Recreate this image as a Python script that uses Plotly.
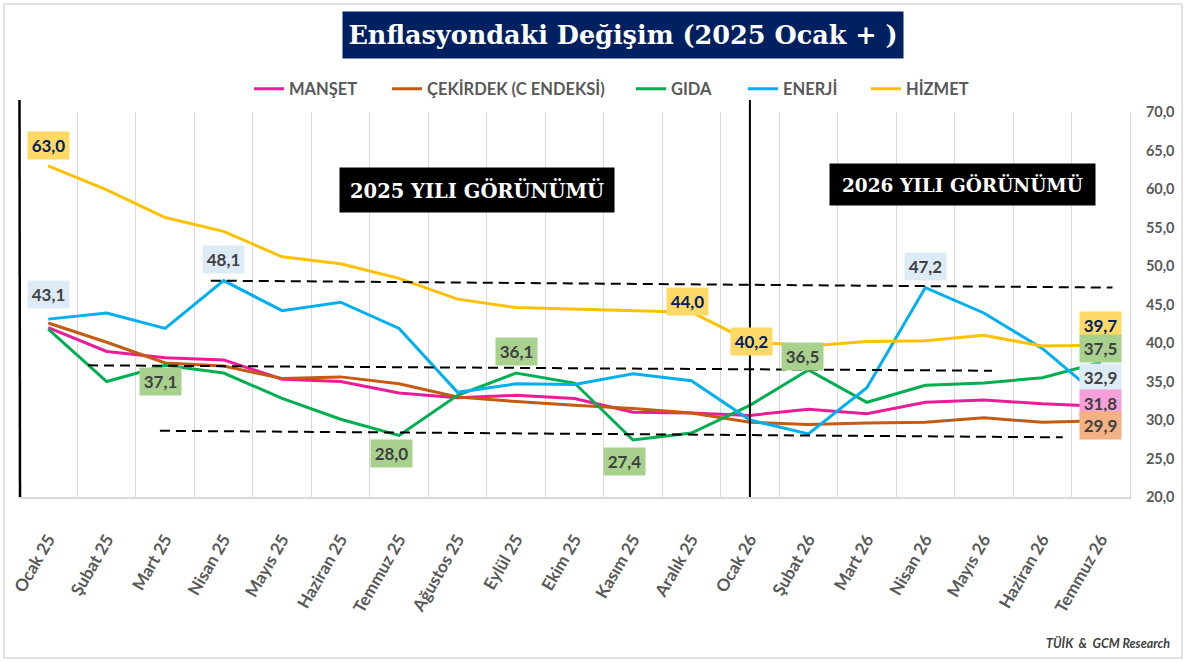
import plotly.graph_objects as go

# ---------------- data ----------------
months = ["Ocak 25", "Şubat 25", "Mart 25", "Nisan 25", "Mayıs 25", "Haziran 25",
          "Temmuz 25", "Ağustos 25", "Eylül 25", "Ekim 25", "Kasım 25", "Aralık 25",
          "Ocak 26", "Şubat 26", "Mart 26", "Nisan 26", "Mayıs 26", "Haziran 26", "Temmuz 26"]

manset   = [42.0, 38.9, 38.1, 37.8, 35.3, 35.0, 33.5, 32.9, 33.2, 32.8, 31.0, 30.9,
            30.6, 31.4, 30.8, 32.3, 32.6, 32.1, 31.8]
cekirdek = [42.6, 40.1, 37.4, 37.0, 35.4, 35.6, 34.7, 33.0, 32.4, 31.9, 31.5, 30.9,
            29.7, 29.4, 29.6, 29.7, 30.3, 29.7, 29.9]
gida     = [41.8, 35.0, 37.1, 36.1, 32.8, 30.1, 28.0, 33.2, 36.1, 34.8, 27.4, 28.3,
            31.9, 36.5, 32.3, 34.5, 34.8, 35.5, 37.5]
enerji   = [43.1, 43.9, 41.9, 48.1, 44.2, 45.3, 41.9, 33.6, 34.7, 34.6, 36.0, 35.1,
            30.0, 28.2, 34.2, 47.2, 43.9, 39.3, 32.9]
hizmet   = [63.0, 59.9, 56.3, 54.5, 51.2, 50.3, 48.4, 45.7, 44.6, 44.4, 44.2, 44.0,
            40.2, 39.6, 40.2, 40.3, 41.0, 39.6, 39.7]

series_names = ["MANŞET", "ÇEKİRDEK (C ENDEKSİ)", "GIDA", "ENERJİ", "HİZMET"]

# dashed reference (trend) lines: start/end positions in category index & value
ref_x0 = [2.78, 0.68, 1.91]
ref_y0 = [48.1, 37.1, 28.6]
ref_x1 = [18.2, 16.14, 17.35]
ref_y1 = [47.2, 36.4, 27.75]

y_ticks = [20, 25, 30, 35, 40, 45, 50, 55, 60, 65, 70]

# ---------------- styling ----------------
W, H = 1187, 663
ML, MR, MT, MB = 19, 57, 112, 166
PW, PH = W - ML - MR, H - MT - MB


def px(x):
    return (x - ML) / PW


def py(y):
    return (H - MB - y) / PH


colors = ["#EC1C99", "#C55A11", "#00B050", "#00B0F0", "#FFC000"]
all_series = [manset, cekirdek, gida, enerji, hizmet]
legend_x = [254, 392, 636, 748, 871]
FONT = "Lato"
GRAY = "#595959"

xs = list(range(len(months)))

fig = go.Figure()
for k, (name, vals, col) in enumerate(zip(series_names, all_series, colors)):
    fig.add_trace(go.Scatter(
        x=xs, y=vals, name=name, mode="lines",
        line=dict(color=col, width=3),
        legend="legend" if k == 0 else f"legend{k+1}",
        hoverinfo="skip"))

for a, b, c, d in zip(ref_x0, ref_y0, ref_x1, ref_y1):
    fig.add_trace(go.Scatter(x=[a, c], y=[b, d], mode="lines", showlegend=False,
                             line=dict(color="black", width=2, dash="10px,6px"),
                             hoverinfo="skip"))

# ---------------- data labels ----------------
YEL_BG, BLU_BG, GRN_BG, PNK_BG, ORG_BG = "#FFD966", "#DDEBF7", "#A9D18E", "#F79FD8", "#F4B183"
NAVY, DARK = "#002060", "#404040"
labels = [
    (hizmet, 0, 0, 20, YEL_BG, NAVY),
    (enerji, 0, 0, 25, BLU_BG, DARK),
    (enerji, 3, 0, 21, BLU_BG, DARK),
    (gida, 2, -5, -16, GRN_BG, DARK),
    (gida, 6, -8, -18, GRN_BG, DARK),
    (gida, 8, 0, 22, GRN_BG, DARK),
    (gida, 10, -8, -21, GRN_BG, DARK),
    (hizmet, 11, -4, 11, YEL_BG, NAVY),
    (hizmet, 12, 2, 0, YEL_BG, NAVY),
    (gida, 13, -6, 13, GRN_BG, DARK),
    (enerji, 15, 0, 21, BLU_BG, DARK),
    (hizmet, 18, 0, 20, YEL_BG, NAVY),
    (gida, 18, 0, 14, GRN_BG, DARK),
    (enerji, 18, 0, 20, BLU_BG, DARK),
    (manset, 18, 0, 3, PNK_BG, DARK),
    (cekirdek, 18, 0, -5, ORG_BG, DARK),
]
annotations = []
for vals, i, dx, dy, bg, fc in labels:
    annotations.append(dict(
        x=i, y=vals[i], xref="x", yref="y", showarrow=False,
        xanchor="center", yanchor="middle",
        text=f"{vals[i]:.1f}".replace(".", ","), xshift=dx, yshift=dy,
        bgcolor=bg, width=35, height=21, borderpad=3,
        font=dict(family=FONT, size=17, color=fc, weight="bold")))

# title
annotations.append(dict(
    x=px(623), y=py(35), xref="paper", yref="paper", showarrow=False,
    xanchor="center", yanchor="middle",
    text="Enflasyondaki Değişim (2025 Ocak + )", bgcolor="#002060",
    width=552, height=38, borderpad=4,
    font=dict(family="DejaVu Serif", size=25.5, color="white", weight="bold")))
# period boxes
annotations.append(dict(
    x=px(477), y=py(190), xref="paper", yref="paper", showarrow=False,
    xanchor="center", yanchor="middle",
    text="2025 YILI GÖRÜNÜMÜ", bgcolor="black", width=268, height=38, borderpad=3,
    font=dict(family="DejaVu Serif", size=19.5, color="white", weight="bold")))
annotations.append(dict(
    x=px(962), y=py(184), xref="paper", yref="paper", showarrow=False,
    xanchor="center", yanchor="middle",
    text="2026 YILI GÖRÜNÜMÜ", bgcolor="black", width=259, height=35, borderpad=3,
    font=dict(family="DejaVu Serif", size=18.5, color="white", weight="bold")))
# source
annotations.append(dict(
    x=px(1172), y=py(643), xref="paper", yref="paper", showarrow=False,
    xanchor="right", yanchor="middle", text="TÜİK  &  GCM Research",
    font=dict(family=FONT, size=12.5, color=DARK, weight="bold", style="italic")))

shapes = [
    # outer frame
    dict(type="rect", xref="paper", yref="paper", x0=px(4), x1=px(1182), y0=py(658), y1=py(4),
         line=dict(color="#D9D9D9", width=1.5), layer="below"),
    # left black line
    dict(type="line", xref="paper", yref="paper", x0=px(19.5), x1=px(20), y0=py(100), y1=0,
         line=dict(color="black", width=2.5)),
    # 2025/2026 divider
    dict(type="line", xref="x", yref="paper", x0=12, x1=12, y0=0, y1=py(100),
         line=dict(color="black", width=2)),
]

legends = {}
for k, lx in enumerate(legend_x):
    key = "legend" if k == 0 else f"legend{k+1}"
    legends[key] = dict(
        x=px(lx) - 5 / PW, y=py(89), xanchor="left", yanchor="middle",
        orientation="h", bgcolor="rgba(0,0,0,0)", itemwidth=30,
        font=dict(family=FONT, size=16.5, color=GRAY, weight="bold"))

fig.update_layout(
    width=W, height=H,
    margin=dict(l=ML, r=MR, t=MT, b=MB, autoexpand=False),
    paper_bgcolor="white", plot_bgcolor="white",
    separators=",.",
    showlegend=True,
    annotations=annotations, shapes=shapes,
    xaxis=dict(range=[-0.5, 18.5], tickmode="array", tickvals=xs, ticktext=months,
               tickangle=-60, showgrid=False, zeroline=False, automargin=False,
               showline=True, linecolor="#D9D9D9", linewidth=1.5, ticks="",
               ticklabelstandoff=24,
               minor=dict(tick0=0.5, dtick=1, showgrid=True, gridcolor="#D9D9D9", gridwidth=1),
               tickfont=dict(family=FONT, size=17, color=GRAY, weight="bold")),
    yaxis=dict(range=[20, 70], side="right", tickmode="array", tickvals=y_ticks,
               tickformat=".1f", showgrid=False, zeroline=False, automargin=False,
               showline=True, linecolor="#D9D9D9", linewidth=1, ticks="",
               ticklabelstandoff=12,
               tickfont=dict(family=FONT, size=14.5, color=GRAY, weight="bold")),
    **legends,
)

fig.write_html("out.html", config={"displayModeBar": False},
               post_script="document.body.style.margin='0';")
